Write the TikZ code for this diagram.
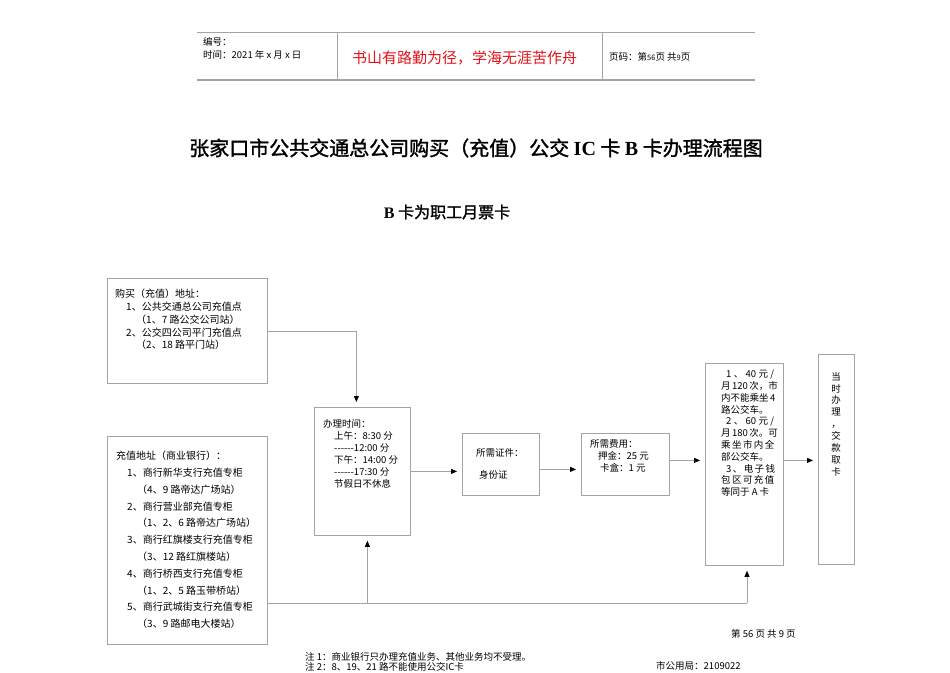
\documentclass[tikz,border=0pt]{standalone}
\usepackage{fontspec}
\setmainfont{Noto Sans CJK SC}
\newfontfamily\tb[FakeBold=1.5]{Noto Sans CJK SC}
\newfontfamily\lserif{Liberation Serif}
\usetikzlibrary{arrows.meta}
\definecolor{lg}{HTML}{A4A4A4}
\definecolor{rd}{HTML}{E3131B}
\newcommand{\hy}{-{}-{}-{}-{}-{}-}
\begin{document}
\begin{tikzpicture}[x=1pt,y=-1pt,
  box/.style={draw=lg,line width=0.8pt,inner sep=0pt,anchor=north west},
  conn/.style={draw=lg,line width=0.8pt},
  arr/.style={conn,-{Triangle[length=6pt,width=5pt,color=black]},shorten >=5pt},
  txt/.style={inner sep=0pt,anchor=north west,align=left},
  sm/.style={font=\fontsize{10}{12.8}\selectfont},
]
\useasboundingbox[fill=white] (0,0) rectangle (950,672);

% header
\draw[lg,line width=0.8pt] (197,32) -- (755,32);
\draw[lg,line width=1.2pt] (197,80) -- (755,80);
\draw[lg,line width=0.8pt] (337,32) -- (337,80);
\draw[lg,line width=0.8pt] (602,32) -- (602,80);
\node[txt,anchor=west,font=\fontsize{9.5}{12}\selectfont] (h1) at (203,42) {编号：};
\node[txt,anchor=west,font=\fontsize{9.5}{12}\selectfont] (h2) at (203,55) {时间：2021 年 x 月 x 日};
\node[txt,anchor=west,font=\fontsize{15}{18}\selectfont,text=rd] (h3) at (352,58) {书山有路勤为径，学海无涯苦作舟};
\node[txt,anchor=west,font=\fontsize{9.5}{12}\selectfont] (h4) at (609,57) {页码：第{\fontsize{7.5}{9}\selectfont 56}页\ 共{\fontsize{7.5}{9}\selectfont 9}页};

% titles
\node[inner sep=0pt,font=\fontsize{20}{24}\selectfont] (title) at (476,148)
  {\tb 张家口市公共交通总公司购买（充值）公交 {\lserif\bfseries IC} 卡 {\lserif\bfseries B} 卡办理流程图};
\node[inner sep=0pt,font=\fontsize{16}{20}\selectfont] (sub) at (447,212)
  {{\lserif\bfseries B} \tb 卡为职工月票卡};

% boxes
\node[box,minimum width=160pt,minimum height=105pt] (b1) at (107,278) {};
\node[box,minimum width=160pt,minimum height=208pt] (b2) at (107,436) {};
\node[box,minimum width=96pt,minimum height=128pt] (b3) at (314,407) {};
\node[box,minimum width=77pt,minimum height=62pt] (b4) at (462,433) {};
\node[box,minimum width=88pt,minimum height=62pt] (b5) at (581,433) {};
\node[box,minimum width=78pt,minimum height=202pt] (b6) at (705,363) {};
\node[box,minimum width=36pt,minimum height=210pt] (b7) at (818,354) {};

% box texts
\node[txt,sm] (t1) at (115,289) {购买（充值）地址：\\
\hspace*{11pt}1、公共交通总公司充值点\\
\hspace*{21pt}（1、7 路公交公司站）\\
\hspace*{11pt}2、公交四公司平门充值点\\
\hspace*{21pt}（2、18 路平门站）};

\node[txt,font=\fontsize{10}{16.8}\selectfont] (t2) at (116,451) {充值地址（商业银行）：\\
\hspace*{11pt}1、商行新华支行充值专柜\\
\hspace*{21pt}（4、9 路帝达广场站）\\
\hspace*{11pt}2、商行营业部充值专柜\\
\hspace*{21pt}（1、2、6 路帝达广场站）\\
\hspace*{11pt}3、商行红旗楼支行充值专柜\\
\hspace*{21pt}（3、12 路红旗楼站）\\
\hspace*{11pt}4、商行桥西支行充值专柜\\
\hspace*{21pt}（1、2、5 路玉带桥站）\\
\hspace*{11pt}5、商行武城街支行充值专柜\\
\hspace*{21pt}（3、9 路邮电大楼站）};

\node[txt,font=\fontsize{9.5}{12.1}\selectfont] (t3) at (323,419) {办理时间：\\
\hspace*{11pt}上午：8:30 分\\
\hspace*{11pt}\hy 12:00 分\\
\hspace*{11pt}下午：14:00 分\\
\hspace*{11pt}\hy 17:30 分\\
\hspace*{11pt}节假日不休息};

\node[txt,anchor=west,font=\fontsize{9.5}{12}\selectfont] (t4a) at (476,453) {所需证件：};
\node[txt,anchor=west,font=\fontsize{9.5}{12}\selectfont] (t4b) at (479,475) {身份证};

\node[txt,font=\fontsize{9.5}{12.1}\selectfont] (t5) at (590,439) {所需费用：\\
\hspace*{8pt}押金：25 元\\
\hspace*{10pt}卡盒：1 元};

\node[txt,font=\fontsize{9.5}{11.8}\selectfont] (t6) at (721,370) {%
\hspace*{5pt}\makebox[48pt][s]{1 、 40 元 /}\\
\makebox[53pt][s]{月 120 次，市}\\
\makebox[53pt][s]{内不能乘坐 4}\\
路公交车。\\
\hspace*{5pt}\makebox[48pt][s]{2 、 60 元 /}\\
\makebox[53pt][s]{月 180 次。可}\\
\makebox[53pt][s]{乘 坐 市 内 全}\\
部公交车。\\
\hspace*{5pt}\makebox[48pt][s]{3 、 电 子 钱}\\
\makebox[53pt][s]{包 区 可 充 值}\\
等同于 A 卡};

\node[inner sep=0pt,anchor=north,align=center,font=\fontsize{9.5}{11.9}\selectfont] (t7) at (836,372)
  {当\\时\\办\\理\\，\\交\\款\\取\\卡};

% connectors
\draw[arr] (b1.east) -| ([xshift=-6pt]b3.north);
\draw[arr] (b3.east) -- (b3.east -| b4.west);
\draw[arr] ([yshift=-5pt]b4.east) -- ([yshift=-5pt]b4.east -| b5.west);
\draw[arr] ([yshift=4pt]b5.east) -- ([yshift=4pt]b5.east -| b6.west);
\draw[arr] ([yshift=4pt]b6.east) -- ([yshift=4pt]b6.east -| b7.west);
\coordinate (j) at (747,603);
\draw[conn] (b2.east |- j) -- (j);
\draw[arr] (j) -- (j |- b6.south);
\draw[arr] ([xshift=5pt]b3.south |- j) -- ([xshift=5pt]b3.south);

% footer
\node[txt,anchor=west,font=\fontsize{9.5}{12}\selectfont] (f1) at (731,634) {第 56 页 共 9 页};
\node[txt,anchor=west,font=\fontsize{9.5}{12}\selectfont] (f2) at (305,657) {注 1：商业银行只办理充值业务、其他业务均不受理。};
\node[txt,anchor=west,font=\fontsize{9.5}{12}\selectfont] (f3) at (305,667) {注 2：8、19、21 路不能使用公交IC卡};
\node[txt,anchor=west,font=\fontsize{9.5}{12}\selectfont] (f4) at (656,666) {市公用局：2109022};
\end{tikzpicture}
\end{document}
